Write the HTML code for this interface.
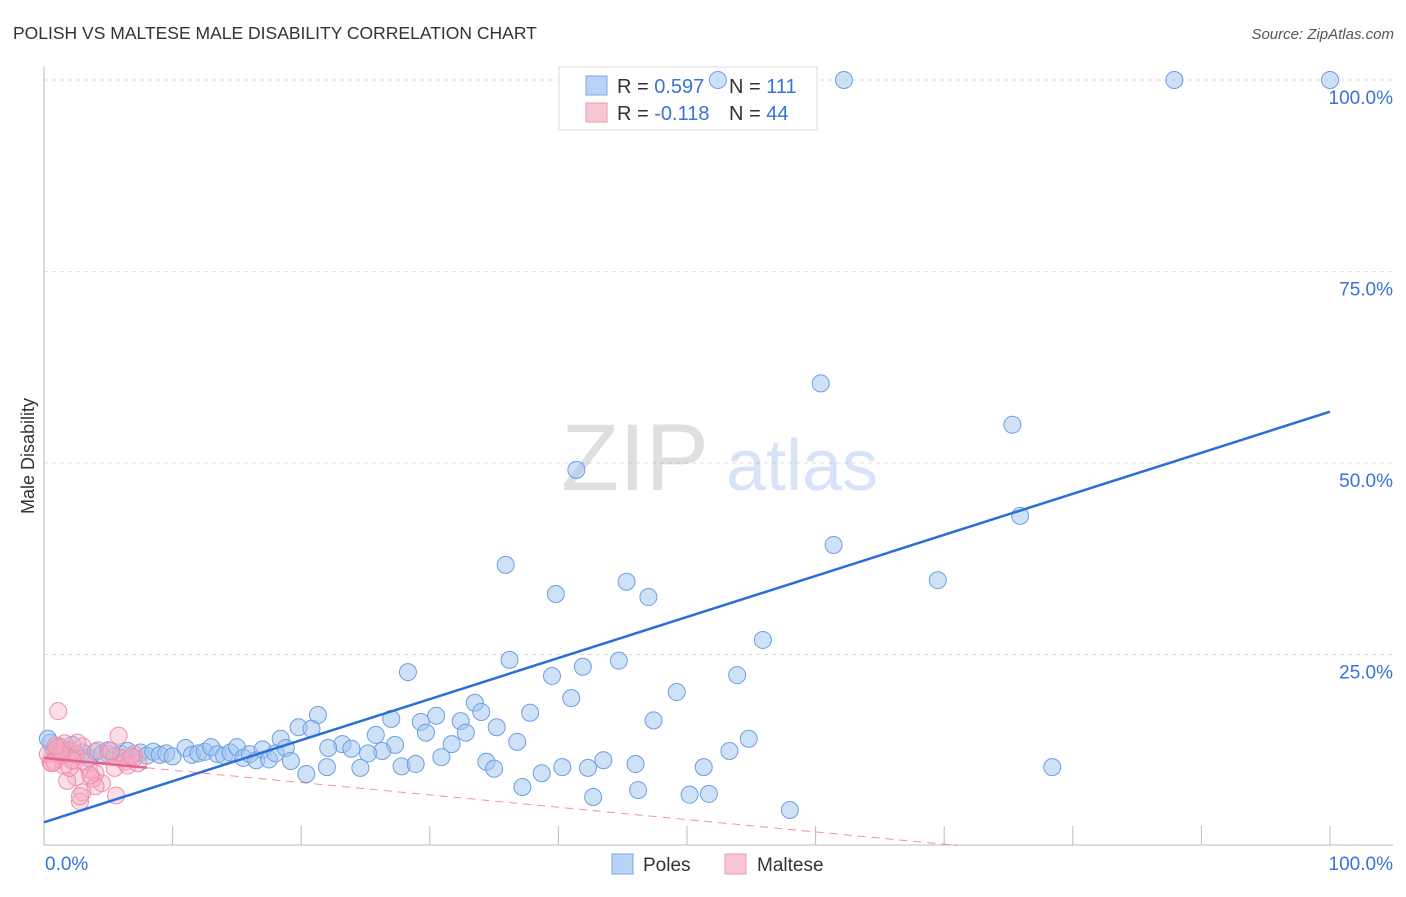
<!DOCTYPE html>
<html><head><meta charset="utf-8"><style>
body{margin:0;background:#fff;font-family:"Liberation Sans",sans-serif;}
svg text{font-family:"Liberation Sans",sans-serif;}
</style></head><body>
<svg id="chart" width="1406" height="892" viewBox="0 0 1406 892">
<text x="13" y="39" font-size="17.5" fill="#333">POLISH VS MALTESE MALE DISABILITY CORRELATION CHART</text>
<text x="1394" y="39" font-size="15" fill="#555" font-style="italic" text-anchor="end">Source: ZipAtlas.com</text>
<text x="34" y="456" font-size="18" fill="#333" text-anchor="middle" transform="rotate(-90 34 456)">Male Disability</text>
<g id="grid"></g>
<g opacity="0.2">
<text x="635" y="490" font-size="95" font-family="Liberation Serif" fill="#666" text-anchor="middle">ZIP</text>
<text x="802" y="490" font-size="72" fill="#3b7dd8" text-anchor="middle">atlas</text>
</g>
<g>
<rect x="559" y="67" width="258" height="63" fill="#fff" stroke="#ddd"/>
<rect x="586" y="76" width="21" height="19" fill="#b8d3f5" stroke="#7faae6"/>
<rect x="586" y="103" width="21" height="19" fill="#f9c6d4" stroke="#ee9ab2"/>
<text x="617" y="93" font-size="20" fill="#333">R = <tspan fill="#3a72d8">0.597</tspan></text>
<text x="729" y="93" font-size="20" fill="#333">N = <tspan fill="#3a72d8">111</tspan></text>
<text x="617" y="120" font-size="20" fill="#333">R = <tspan fill="#3a72d8">-0.118</tspan></text>
<text x="729" y="120" font-size="20" fill="#333">N = <tspan fill="#3a72d8">44</tspan></text>
</g>
<g id="marks"></g>
<g id="lines"></g>
<g>
<rect x="612" y="854" width="21" height="20" fill="#b8d3f5" stroke="#7faae6"/>
<text x="643" y="871" font-size="19" fill="#333">Poles</text>
<rect x="725" y="854" width="21" height="20" fill="#f9c6d4" stroke="#ee9ab2"/>
<text x="757" y="871" font-size="19" fill="#333">Maltese</text>
</g>
</svg>
<script>
const yTicks=[25,50,75,100];
const yTickLabels=["25.0%","50.0%","75.0%","100.0%"];
const xTickLabels=["0.0%","100.0%"];
const polesX=[100,87.9,62.2,52.4,60.4,75.3,41.4,75.9,61.4,35.9,69.5,45.3,39.8,47,55.9,36.2,44.7,41.9,28.3,39.5,53.9,49.2,41,33.5,34,37.8,21.3,30.5,47.4,27,32.4,29.3,19.8,20.8,35.2,29.7,32.8,25.8,18.4,54.8,36.8,23.2,31.7,27.3,22.1,23.9,26.3,53.3,25.2,30.9,43.5,34.4,46,27.8,28.9,22,24.6,40.3,42.3,51.3,78.4,35,38.7,20.4,37.2,46.2,50.2,51.7,42.7,58,0.5,0.8,1.2,1.5,2,2.5,3,3.5,4,4.5,5,5.5,6,6.5,7,7.5,8,8.5,9,9.5,10,11,11.5,12,12.5,13,13.5,14,14.5,15,15.5,16,16.5,17,17.5,18,18.8,19.2,0.3,1,2.2];
const polesY=[100,100,100,100,60.4,55,49.1,43.1,39.3,36.7,34.7,34.5,32.9,32.5,26.9,24.3,24.2,23.4,22.7,22.2,22.3,20.1,19.3,18.7,17.5,17.4,17.1,17,16.4,16.6,16.3,16.2,15.5,15.3,15.5,14.8,14.8,14.5,14,14,13.6,13.3,13.3,13.2,12.8,12.7,12.4,12.4,12.1,11.6,11.2,11,10.7,10.4,10.7,10.3,10.2,10.3,10.2,10.3,10.3,10.1,9.5,9.4,7.7,7.3,6.7,6.8,6.4,4.7,13.5,12.5,13,12,12.5,11.8,12.2,11.5,12.3,12,12.5,11.7,12,12.4,11.5,12.2,11.8,12.3,11.9,12.1,11.7,12.8,11.9,12.1,12.3,12.9,12,11.8,12.2,12.9,11.5,12,11.2,12.6,11.3,12.1,12.8,11.1,14,12.8,13.2];
const maltX=[0.5,1,1.2,1.5,2,2.3,2.5,3,3,3.5,1.8,4,4.5,2.8,2.8,5.5,6,5.8,7,6.3,5.6,0.3,0.8,1,1.4,2,2.5,3.2,4.2,5,6.5,7.3,1.1,0.6,1.6,2.2,3.8,4,3.6,2.6,1.3,0.9,5.2,6.8];
const maltY=[11,12,13,10.5,12.5,11.5,9,7,13,10,8.5,9.5,8.2,5.8,6.5,10.2,11.5,14.4,12,11,6.6,12,11,12.8,11.8,10.2,12,11,12.5,12,10.5,10.8,17.6,10.8,13.4,11.2,8.8,7.8,9.2,13.5,12.2,13.1,12.4,11.7];
const polesFit=[3.1,56.7];
const maltFit=[11.5,-0.161];
const X0=44,X1=1330,Y0=846,Y1=80;
const sx=v=>X0+(X1-X0)*v/100, sy=v=>Y0-(Y0-Y1)*v/100;
const NS="http://www.w3.org/2000/svg";
function mk(t,a,p){const e=document.createElementNS(NS,t);for(const k in a)e.setAttribute(k,a[k]);p.appendChild(e);return e;}
const grid=document.getElementById('grid');
yTicks.forEach((t,i)=>{
 const l=mk('line',{x1:X0,x2:1393,y1:sy(t),y2:sy(t),stroke:'#ddd','stroke-dasharray':'4,4'},grid);
 
 
 const tx=mk('text',{x:1393,y:sy(t)+24,'font-size':19,fill:'#3a72d8','text-anchor':'end'},grid);
 tx.textContent=yTickLabels[i];
 
 
});
const ax=mk('line',{x1:X0,x2:1393,y1:845,y2:845,stroke:'#bbb'},grid);


const ay=mk('line',{x1:X0,x2:X0,y1:67,y2:845,stroke:'#bbb'},grid);


for(let i=1;i<=10;i++){
 const t=mk('line',{x1:sx(i*10),x2:sx(i*10),y1:826,y2:845,stroke:'#bbb'},grid);
 
 
}
[[0,'start',45],[100,'end',1393]].forEach((d,i)=>{
 const t=mk('text',{x:d[2],y:870,'font-size':19,fill:'#3a72d8','text-anchor':d[1]},grid);
 t.textContent=xTickLabels[i];
 
 
});
const marks=document.getElementById('marks');
polesX.forEach((x,i)=>{
 const c=mk('circle',{cx:sx(x),cy:sy(polesY[i]),r:8.5,fill:'rgba(160,195,240,0.5)',stroke:'#6d9fe3','stroke-width':1},marks);
 
 
});
maltX.forEach((x,i)=>{
 const c=mk('circle',{cx:sx(x),cy:sy(maltY[i]),r:8.5,fill:'rgba(246,170,192,0.4)',stroke:'#ec8fac','stroke-width':1},marks);
 
 
});
const lines=document.getElementById('lines');
const pl=mk('line',{x1:sx(0),y1:sy(polesFit[0]),x2:sx(100),y2:sy(polesFit[1]),stroke:'#2a6fd8','stroke-width':2.5},lines);


const mf=x=>maltFit[0]+maltFit[1]*x;
const ms=mk('line',{x1:sx(0),y1:sy(mf(0)),x2:sx(8),y2:sy(mf(8)),stroke:'#e8618c','stroke-width':2.5},lines);


const md=mk('line',{x1:sx(8),y1:sy(mf(8)),x2:sx(71),y2:sy(mf(71)),stroke:'#e8618c','stroke-width':1,'stroke-dasharray':'8,6',opacity:0.7},lines);


</script>
</body></html>
